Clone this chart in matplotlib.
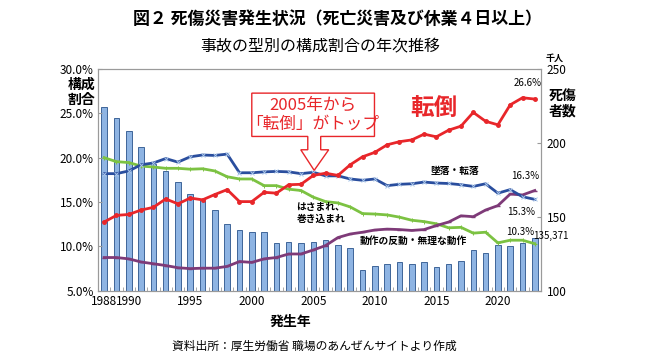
import matplotlib.pyplot as plt
import numpy as np

plt.rcParams['font.family'] = ['Noto Sans CJK JP', 'DejaVu Sans']

# data
years = list(range(1988, 2024))

# 死傷者数 (千人)
casualties = [224.1, 216.6, 208.0, 197.2, 186.0, 181.0, 173.8, 165.4, 161.2, 154.6, 145.0,
              141.1, 140.0, 140.0, 132.1, 132.8, 132.1, 133.0, 134.1, 131.2, 128.7,
              114.2, 116.7, 117.96, 119.58, 118.16, 119.54, 116.31, 117.91, 120.46, 127.33,
              125.61, 131.16, 130.59, 132.36, 135.37]

# 構成割合 (%)
tentou = [12.75, 13.5, 13.6, 14.1, 14.4, 15.35, 14.8, 15.45, 15.25, 15.85, 16.4,
          15.05, 15.05, 16.1, 16.0, 16.95, 17.0, 18.0, 18.25, 18.0, 19.2,
          20.1, 20.6, 21.45, 21.8, 22.0, 22.65, 22.35, 23.1, 23.55, 25.1,
          24.1, 23.7, 25.95, 26.75, 26.6]
tsuiraku = [18.2, 18.2, 18.5, 19.2, 19.4, 19.9, 19.5, 20.1, 20.3, 20.25, 20.4,
            18.3, 18.3, 18.4, 18.45, 18.4, 18.2, 18.35, 17.95, 17.95, 17.6,
            17.45, 17.6, 16.85, 17.0, 17.06, 17.25, 17.14, 17.09, 16.95, 16.76,
            17.06, 16.0, 16.4, 15.6, 15.3]
hasamare = [20.0, 19.55, 19.45, 19.05, 18.95, 18.8, 18.8, 18.7, 18.75, 18.5, 17.85,
            17.6, 17.6, 16.85, 16.85, 16.45, 16.3, 15.55, 15.05, 14.9, 14.45,
            13.7, 13.65, 13.55, 13.3, 12.95, 12.8, 12.55, 12.1, 12.15, 11.5,
            11.6, 10.4, 10.7, 10.7, 10.3]
dousa = [8.75, 8.75, 8.6, 8.25, 8.05, 7.85, 7.6, 7.5, 7.55, 7.55, 7.75,
         8.3, 8.2, 8.6, 8.75, 9.15, 9.15, 9.6, 10.1, 11.0, 11.4,
         11.6, 11.85, 11.95, 11.9, 11.8, 11.9, 12.35, 12.75, 13.45, 13.35,
         14.1, 14.6, 15.9, 15.8, 16.3]

xtick_years = [1988, 1990, 1995, 2000, 2005, 2010, 2015, 2020]

RED = "#E8262A"

fig = plt.figure(figsize=(6.72, 3.57), dpi=100)
ax = fig.add_axes([0.1458, 0.1854, 0.6592, 0.6216])
ax2 = ax.twinx()
ax.set_zorder(2)
ax.patch.set_visible(False)

# bars: 死傷者数 on right axis
ax2.bar(years, casualties, width=0.45, color="#8EB4E3", edgecolor="#3E6599", linewidth=0.7)
ax2.set_ylim(100, 250)
ax2.set_yticks([100, 150, 200, 250])

# lines: 構成割合 on left axis
ax.plot(years, tentou, color=RED, lw=2, marker="o", ms=2.5, zorder=5)
ax.plot(years, tsuiraku, color="#2A4E9E", lw=2, marker="x", ms=3, mew=0.7,
        mec="#A9C6EA", zorder=4)
ax.plot(years, hasamare, color="#7CC242", lw=2, marker="+", ms=3, mew=0.7, zorder=3)
ax.plot(years, dousa, color="#7E3A78", lw=2, marker="_", ms=3, zorder=3)

ax.set_ylim(5, 30)
ax.set_yticks([5, 10, 15, 20, 25, 30])
ax.set_yticklabels([f"{v:.1f}%" for v in [5, 10, 15, 20, 25, 30]])
ax.set_xlim(1987.6, 2023.5)
ax.set_xticks(xtick_years)
ax.set_xticks([y - 0.5 for y in years] + [2023.5], minor=True)

for a in (ax, ax2):
    for s in a.spines.values():
        s.set_color("#9A9A9A")
        s.set_linewidth(0.8)
ax.tick_params(axis="x", which="major", length=0, labelsize=8.5, pad=3)
ax.tick_params(axis="x", which="minor", direction="in", length=3, color="#9A9A9A")
ax.tick_params(axis="y", direction="in", length=3, color="#9A9A9A", labelsize=8.5, pad=3)
ax2.tick_params(axis="y", direction="in", length=3, color="#9A9A9A", labelsize=8.5, pad=4)

# titles and axis labels
fig.text(0.502, 0.948, "図２ 死傷災害発生状況（死亡災害及び休業４日以上）",
         ha="center", va="center", fontsize=12.2, fontweight="bold")
fig.text(0.476, 0.868, "事故の型別の構成割合の年次推移", ha="center", va="center", fontsize=11.5)
fig.text(0.121, 0.742, "構成\n割合", ha="center", va="center", fontsize=10,
         fontweight="bold", linespacing=1.1)
fig.text(0.837, 0.709, "死傷\n者数", ha="center", va="center", fontsize=10,
         fontweight="bold", linespacing=1.1)
fig.text(0.826, 0.838, "千人", ha="center", va="center", fontsize=6.5, fontweight="bold")
fig.text(0.432, 0.098, "発生年", ha="center", va="center", fontsize=10, fontweight="bold")
fig.text(0.467, 0.030, "資料出所：厚生労働省 職場のあんぜんサイトより作成",
         ha="center", va="center", fontsize=8.5)

# annotations inside the plot
ax.text(2014.8, 25.6, "転倒", color=RED, fontsize=17, fontweight="bold",
        ha="center", va="center")
ax.text(2016.5, 18.5, "墜落・転落", fontsize=7, fontweight="bold", ha="center", va="center")
ax.text(2005.6, 13.8, "はさまれ、\n巻き込まれ", fontsize=7, fontweight="bold",
        ha="center", va="center", linespacing=1.25)
ax.text(2013.1, 10.6, "動作の反動・無理な動作", fontsize=7, fontweight="bold",
        ha="center", va="center")
ax.text(2022.4, 28.4, "26.6%", fontsize=7, ha="center", va="center")
ax.text(2022.2, 17.95, "16.3%", fontsize=7, ha="center", va="center")
ax.text(2021.9, 13.9, "15.3%", fontsize=7, ha="center", va="center")
ax.text(2021.8, 11.65, "10.3%", fontsize=7, ha="center", va="center")
ax.text(2022.9, 11.2, "135,371", fontsize=7, ha="left", va="center", clip_on=False)

# callout: box with a hollow arrow pointing at 2005
callout = [(2000.0, 27.27), (2009.97, 27.27), (2009.97, 22.39), (2005.6, 22.39),
           (2005.6, 20.89), (2006.25, 20.89), (2005.07, 18.57), (2003.98, 20.89),
           (2004.55, 20.89), (2004.55, 22.39), (2000.0, 22.39)]
ax.add_patch(plt.Polygon(callout, closed=True, fc="white", ec=RED, lw=1.0, zorder=6))
ax.text(2004.95, 24.85, "2005年から\n「転倒」がトップ", color=RED, fontsize=12,
        ha="center", va="center", linespacing=1.1, zorder=7)

fig.savefig("out.png", dpi=100)
